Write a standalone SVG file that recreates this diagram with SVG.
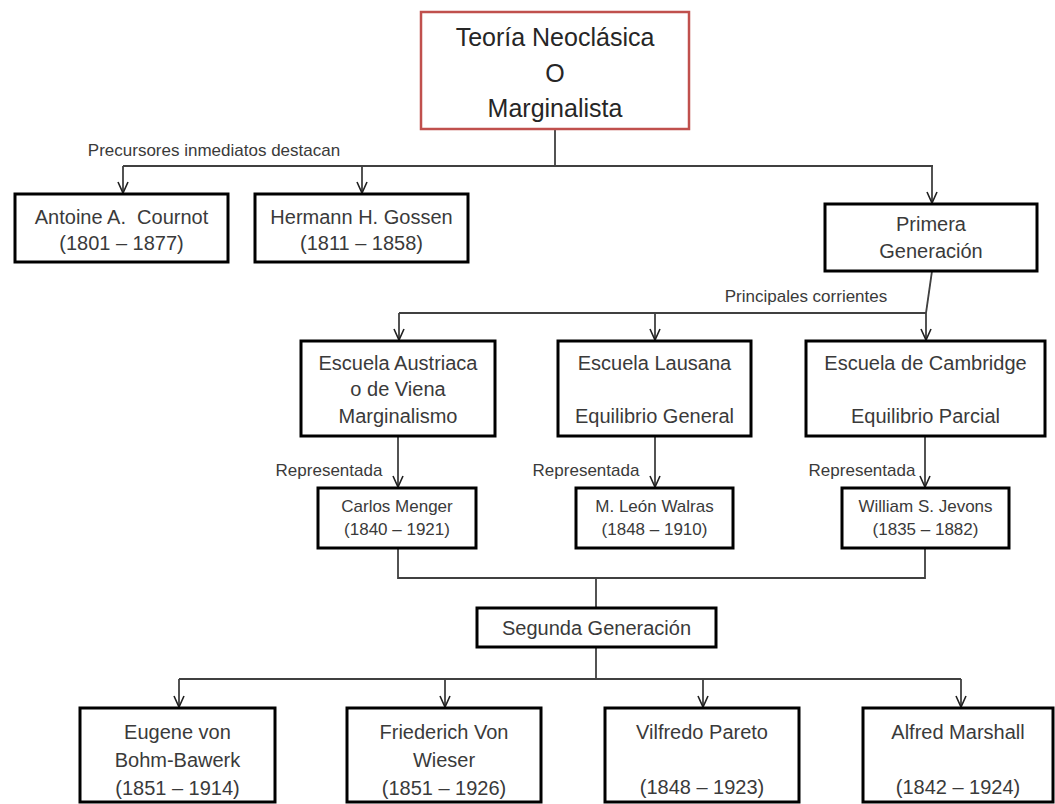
<svg xmlns="http://www.w3.org/2000/svg" width="1055" height="804" viewBox="0 0 1055 804">
<style>
  .box { fill: #ffffff; stroke: #000000; stroke-width: 3; }
  .root { fill: #ffffff; stroke: #c0504d; stroke-width: 2.5; }
  text { font-family: 'Liberation Sans', Arial, sans-serif; fill: #3a3a3a; text-anchor: middle; dominant-baseline: central; }
  .t { font-size: 20px; }
  .ts { font-size: 17px; }
  .tl { font-size: 25px; fill: #262626; }
  .lbl { font-size: 17px; }
  .conn path { fill: none; stroke: #404040; stroke-width: 1.8; }
</style>
<defs>
  <marker id="arr" markerUnits="userSpaceOnUse" markerWidth="14" markerHeight="14" viewBox="-12 -7 14 14" refX="0" refY="0" orient="auto">
    <path d="M-11,-5 L0,0 L-11,5" fill="none" stroke="#202020" stroke-width="1.6"/>
  </marker>
</defs>

<g id="connectors" class="conn">
  <path d="M555,129 V166"/>
  <path d="M123,166 H933"/>
  <path d="M123,166 V193" marker-end="url(#arr)"/>
  <path d="M362,166 V193" marker-end="url(#arr)"/>
  <path d="M932,166 V203" marker-end="url(#arr)"/>
  <path d="M932,271 L926,313"/>
  <path d="M399,313 H926"/>
  <path d="M399,313 V340" marker-end="url(#arr)"/>
  <path d="M655,313 V340" marker-end="url(#arr)"/>
  <path d="M926,313 V340" marker-end="url(#arr)"/>
  <path d="M398,436 V487" marker-end="url(#arr)"/>
  <path d="M655,436 V487" marker-end="url(#arr)"/>
  <path d="M925,436 V487" marker-end="url(#arr)"/>
  <path d="M398,548 V578 H925 V548"/>
  <path d="M596,578 V608"/>
  <path d="M596,647 V679"/>
  <path d="M179,679 H961"/>
  <path d="M179,679 V707" marker-end="url(#arr)"/>
  <path d="M445,679 V707" marker-end="url(#arr)"/>
  <path d="M703,679 V707" marker-end="url(#arr)"/>
  <path d="M961,679 V707" marker-end="url(#arr)"/>
  <text class="lbl" x="214" y="150">Precursores inmediatos destacan</text>
  <text class="lbl" x="806" y="296">Principales corrientes</text>
  <text class="lbl" x="329" y="470">Representada</text>
  <text class="lbl" x="586" y="470">Representada</text>
  <text class="lbl" x="862" y="470">Representada</text>
</g>

<g id="teoria">
  <rect class="root" x="421" y="12" width="268" height="117"/>
  <text class="tl" x="555" y="37">Teoría Neoclásica</text>
  <text class="tl" x="555" y="73">O</text>
  <text class="tl" x="555" y="108">Marginalista</text>
</g>

<g id="cournot">
  <rect class="box" x="15" y="194" width="213" height="68"/>
  <text class="t" x="121.5" y="217">Antoine A.&#160; Cournot</text>
  <text class="t" x="121.5" y="243">(1801 – 1877)</text>
</g>

<g id="gossen">
  <rect class="box" x="255" y="194" width="213" height="68"/>
  <text class="t" x="361.5" y="217">Hermann H. Gossen</text>
  <text class="t" x="361.5" y="243">(1811 – 1858)</text>
</g>

<g id="primera">
  <rect class="box" x="825" y="204" width="212" height="67"/>
  <text class="t" x="931" y="224">Primera</text>
  <text class="t" x="931" y="251">Generación</text>
</g>

<g id="austriaca">
  <rect class="box" x="301" y="341" width="194" height="95"/>
  <text class="t" x="398" y="363">Escuela Austriaca</text>
  <text class="t" x="398" y="389">o de Viena</text>
  <text class="t" x="398" y="416">Marginalismo</text>
</g>

<g id="lausana">
  <rect class="box" x="558" y="341" width="193" height="95"/>
  <text class="t" x="654.5" y="363">Escuela Lausana</text>
  <text class="t" x="654.5" y="416">Equilibrio General</text>
</g>

<g id="cambridge">
  <rect class="box" x="806" y="341" width="239" height="95"/>
  <text class="t" x="925.5" y="363">Escuela de Cambridge</text>
  <text class="t" x="925.5" y="416">Equilibrio Parcial</text>
</g>

<g id="menger">
  <rect class="box" x="318" y="488" width="158" height="60"/>
  <text class="ts" x="397" y="506">Carlos Menger</text>
  <text class="ts" x="397" y="529">(1840 – 1921)</text>
</g>

<g id="walras">
  <rect class="box" x="576" y="488" width="157" height="60"/>
  <text class="ts" x="654.5" y="506">M. León Walras</text>
  <text class="ts" x="654.5" y="529">(1848 – 1910)</text>
</g>

<g id="jevons">
  <rect class="box" x="842" y="488" width="167" height="60"/>
  <text class="ts" x="925.5" y="506">William S. Jevons</text>
  <text class="ts" x="925.5" y="529">(1835 – 1882)</text>
</g>

<g id="segunda">
  <rect class="box" x="477" y="608" width="239" height="39"/>
  <text class="t" x="596.5" y="628">Segunda Generación</text>
</g>

<g id="bohm">
  <rect class="box" x="80" y="708" width="195" height="94"/>
  <text class="t" x="177.5" y="732">Eugene von</text>
  <text class="t" x="177.5" y="760">Bohm-Bawerk</text>
  <text class="t" x="177.5" y="788">(1851 – 1914)</text>
</g>

<g id="wieser">
  <rect class="box" x="347" y="708" width="194" height="94"/>
  <text class="t" x="444" y="732">Friederich Von</text>
  <text class="t" x="444" y="760">Wieser</text>
  <text class="t" x="444" y="788">(1851 – 1926)</text>
</g>

<g id="pareto">
  <rect class="box" x="605" y="708" width="194" height="94"/>
  <text class="t" x="702" y="732">Vilfredo Pareto</text>
  <text class="t" x="702" y="787">(1848 – 1923)</text>
</g>

<g id="marshall">
  <rect class="box" x="863" y="708" width="190" height="94"/>
  <text class="t" x="958" y="732">Alfred Marshall</text>
  <text class="t" x="958" y="787">(1842 – 1924)</text>
</g>
</svg>
